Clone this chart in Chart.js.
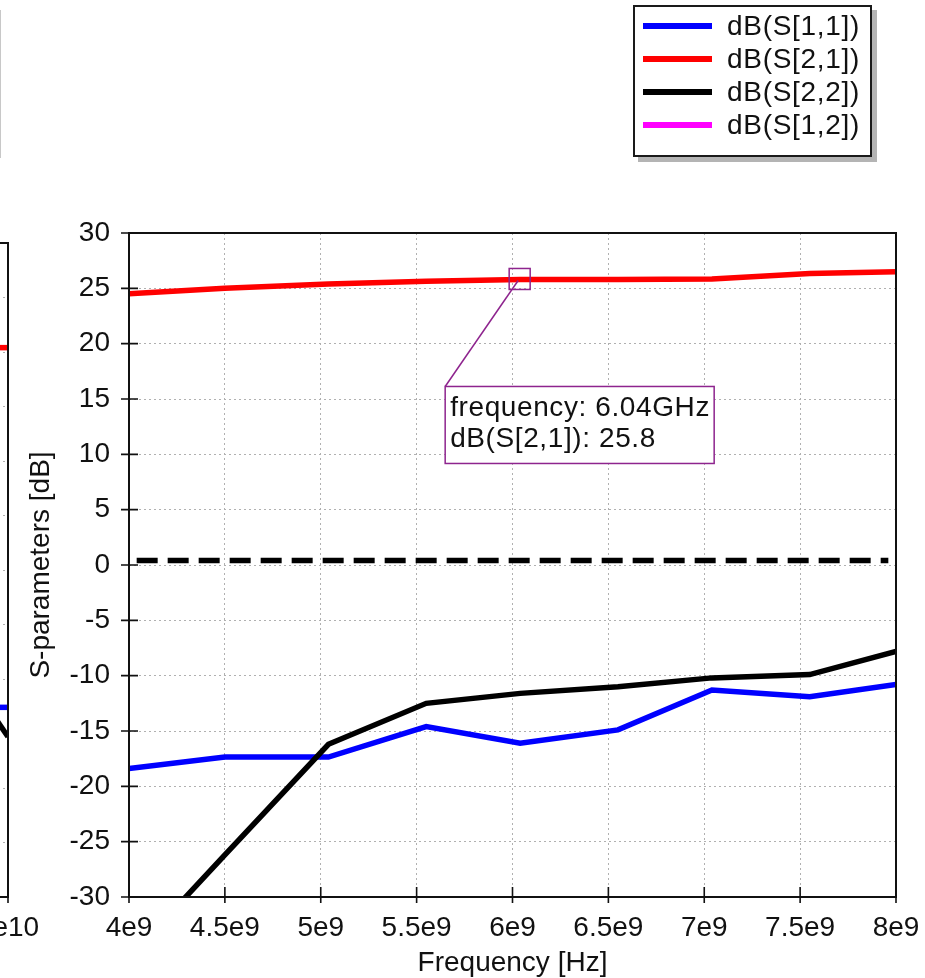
<!DOCTYPE html>
<html>
<head>
<meta charset="utf-8">
<script src="https://cdn.jsdelivr.net/npm/chart.js@4.4.1/dist/chart.umd.min.js"></script>
<style>
  html, body { margin: 0; padding: 0; background: #fff; overflow: hidden; }
  body { width: 925px; height: 978px; position: relative; font-family: "Liberation Sans", Arial, sans-serif; }
  #mainChart { position: absolute; left: 0; top: 0; }
  #leftChart { position: absolute; left: -252px; top: 0; }
  #leftLegendEdge { position: absolute; left: -100px; top: 10px; width: 100px; height: 148px; border-right: 1px solid #c8c8c8; }
  #legend {
    position: absolute; left: 633px; top: 5px; width: 235px; height: 146px;
    border: 2px solid #1a1a1a; background: #fff; box-shadow: 5px 5px 0 #b4b4b4;
    padding-top: 2px; box-sizing: content-box;
  }
  #legend .row { display: flex; align-items: center; height: 33px; }
  #legend .swatch { margin-left: 8px; width: 69px; height: 6px; }
  #legend .label { margin-left: 15px; font-size: 28px; letter-spacing: 0.7px; color: #111; }
</style>
</head>
<body>
<div id="leftLegendEdge"></div>
<canvas id="leftChart" width="300" height="978"></canvas>
<canvas id="mainChart" width="925" height="978"></canvas>
<div id="legend"></div>
<script>
// sweep points (GHz)
const freqGHz = [4.0, 4.5, 5.04, 5.55, 6.04, 6.55, 7.04, 7.55, 8.0];
const s11 = [-18.4, -17.35, -17.35, -14.6, -16.1, -14.9, -11.3, -11.9, -10.8];
const s21 = [24.5, 25.0, 25.4, 25.65, 25.8, 25.8, 25.85, 26.35, 26.5];
const s22 = [-35.5, -26.2, -16.2, -12.5, -11.6, -11.0, -10.2, -9.9, -7.8];
const s12 = []; // lies below the -30 dB limit, only the legend entry shows

// dashed reference trace near 0 dB
const refFreqGHz = [4.04, 7.96];
const refLevel = [0.4, 0.4];

const xTickLabels = ['4e9', '4.5e9', '5e9', '5.5e9', '6e9', '6.5e9', '7e9', '7.5e9', '8e9'];

// marker on S21
const markerFreq = 6.04e9;
const markerValue = 25.8;
const markerName = 'dB(S[2,1])';

// right edge of the neighbouring plot (only a sliver is visible)
const leftFreqGHz = [9.6, 10.0];
const leftS11 = [-12.6, -12.6];
const leftS21 = [20.4, 20.4];
const leftS22 = [-13.9, -15.3];

const FONT = '"Liberation Sans", Arial, sans-serif';

function toPoints(freqs, vals) {
    return vals.map((v, i) => ({ x: freqs[i] * 1e9, y: v }));
}

// keep the plot box where it is, whatever the edge tick labels want
function fitXAxis(s) {
    s.height = 81;
    s.paddingLeft = 0;
    s.paddingRight = 0;
}

const framePlugin = {
    id: 'frame',
    afterDatasetsDraw(chart) {
        const { ctx, chartArea: a, scales: { x, y } } = chart;
        ctx.save();
        ctx.strokeStyle = '#111';
        ctx.lineWidth = 2;
        ctx.strokeRect(a.left, a.top, a.right - a.left, a.bottom - a.top);
        ctx.lineWidth = 1.6;
        ctx.beginPath();
        y.ticks.forEach(t => {
            const py = y.getPixelForValue(t.value);
            ctx.moveTo(a.left - 8, py);
            ctx.lineTo(a.left + 9, py);
        });
        x.ticks.forEach(t => {
            const px = x.getPixelForValue(t.value);
            ctx.moveTo(px, a.bottom + 6);
            ctx.lineTo(px, a.bottom - 10);
        });
        ctx.stroke();
        ctx.restore();
    }
};

const markerPlugin = {
    id: 'marker',
    afterDraw(chart) {
        const { ctx, scales: { x, y } } = chart;
        const px = x.getPixelForValue(markerFreq);
        const py = y.getPixelForValue(markerValue);
        const bx = px - 75, by = py + 107, bw = 269, bh = 77;
        ctx.save();
        ctx.strokeStyle = '#8e248e';
        ctx.lineWidth = 1.5;
        ctx.strokeRect(px - 11, py - 11, 21, 21);
        ctx.beginPath();
        ctx.moveTo(px - 2, py + 1);
        ctx.lineTo(bx, by);
        ctx.stroke();
        ctx.fillStyle = '#fff';
        ctx.fillRect(bx, by, bw, bh);
        ctx.strokeRect(bx, by, bw, bh);
        ctx.fillStyle = '#111';
        ctx.font = '28px ' + FONT;
        ctx.letterSpacing = '0.6px';
        ctx.textBaseline = 'alphabetic';
        ctx.fillText('frequency: ' + (markerFreq / 1e9).toFixed(2) + 'GHz', bx + 5, by + 30);
        ctx.fillText(markerName + ': ' + markerValue.toFixed(1), bx + 5, by + 61);
        ctx.restore();
    }
};

const gridStyle = { color: '#b0b0b0', lineWidth: 1, drawTicks: false };
const borderStyle = { display: false, dash: [2, 3] };

const mainChart = new Chart(document.getElementById('mainChart'), {
    type: 'line',
    data: {
        datasets: [
            { label: 'dB(S[1,1])', data: toPoints(freqGHz, s11), borderColor: '#0000ff', order: 2 },
            { label: 'dB(S[2,1])', data: toPoints(freqGHz, s21), borderColor: '#ff0000', order: 2 },
            { label: 'dB(S[2,2])', data: toPoints(freqGHz, s22), borderColor: '#000000', order: 1 },
            { label: 'dB(S[1,2])', data: toPoints(freqGHz, s12), borderColor: '#ff00ff', order: 2 },
            { label: 'ref', data: toPoints(refFreqGHz, refLevel), borderColor: '#000000', borderDash: [21, 10], order: 0, hideInLegend: true }
        ]
    },
    options: {
        responsive: false,
        animation: false,
        layout: { padding: { top: 233, right: 29, left: 0, bottom: 0 } },
        elements: {
            line: { borderWidth: 5.5, tension: 0 },
            point: { radius: 0, hoverRadius: 0 }
        },
        datasets: { line: { clip: 0 } },
        plugins: { legend: { display: false }, tooltip: { enabled: false } },
        scales: {
            x: {
                type: 'linear', min: 4e9, max: 8e9,
                grid: gridStyle, border: borderStyle,
                ticks: {
                    stepSize: 0.5e9, padding: 14, color: '#111', maxRotation: 0, autoSkip: false,
                    font: { family: FONT, size: 28 },
                    callback: (v, i) => xTickLabels[i]
                },
                title: { display: true, text: 'Frequency [Hz]', color: '#111', font: { family: FONT, size: 28 }, padding: { top: 0, bottom: -2 } },
                afterFit: fitXAxis
            },
            y: {
                min: -30, max: 30,
                grid: gridStyle, border: borderStyle,
                ticks: { stepSize: 5, padding: 19, color: '#111', font: { family: FONT, size: 28 } },
                title: { display: true, text: 'S-parameters [dB]', color: '#111', font: { family: FONT, size: 28 }, padding: { top: 24, bottom: 0 } },
                afterFit: s => { s.width = 129; }
            }
        }
    },
    plugins: [framePlugin, markerPlugin]
});

new Chart(document.getElementById('leftChart'), {
    type: 'line',
    data: {
        datasets: [
            { data: toPoints(leftFreqGHz, leftS11), borderColor: '#0000ff' },
            { data: toPoints(leftFreqGHz, leftS21), borderColor: '#ff0000' },
            { data: toPoints(leftFreqGHz, leftS22), borderColor: '#000000' }
        ]
    },
    options: {
        responsive: false,
        animation: false,
        layout: { padding: { top: 243, right: 40, left: 0, bottom: 0 } },
        elements: {
            line: { borderWidth: 5.5, tension: 0 },
            point: { radius: 0, hoverRadius: 0 }
        },
        datasets: { line: { clip: 0 } },
        plugins: { legend: { display: false }, tooltip: { enabled: false } },
        scales: {
            x: {
                type: 'linear', min: 0, max: 1e10,
                grid: gridStyle, border: borderStyle,
                ticks: {
                    stepSize: 1e9, padding: 14, color: '#111', maxRotation: 0, autoSkip: false,
                    font: { family: FONT, size: 28 },
                    callback: v => (v === 1e10 ? '1e10' : '')
                },
                afterFit: fitXAxis
            },
            y: {
                min: -30, max: 30,
                grid: gridStyle, border: borderStyle,
                ticks: { stepSize: 5, display: false },
                afterFit: s => { s.width = 0; }
            }
        }
    },
    plugins: [framePlugin]
});

// legend box built from the main chart's datasets
const legendEl = document.getElementById('legend');
mainChart.data.datasets.filter(d => !d.hideInLegend).forEach(d => {
    const row = document.createElement('div');
    row.className = 'row';
    const sw = document.createElement('div');
    sw.className = 'swatch';
    sw.style.background = d.borderColor;
    const lab = document.createElement('div');
    lab.className = 'label';
    lab.textContent = d.label;
    row.appendChild(sw);
    row.appendChild(lab);
    legendEl.appendChild(row);
});
</script>
</body>
</html>
